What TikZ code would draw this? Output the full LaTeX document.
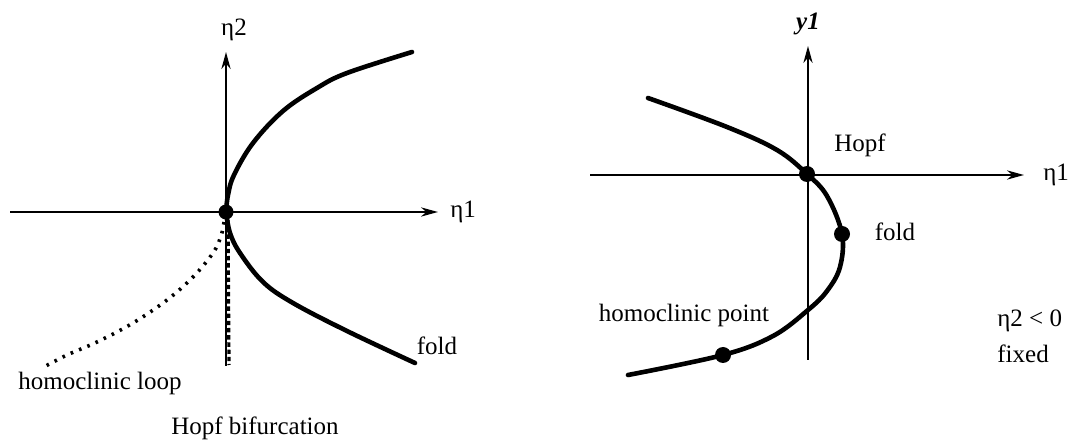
\documentclass[tikz,border=0pt]{standalone}
\usepackage{fontspec}
\setmainfont{Liberation Serif}
\usetikzlibrary{arrows.meta}

\begin{document}
\begin{tikzpicture}[
    x=0.5pt, y=-0.5pt,
    font=\fontsize{12.5}{15}\selectfont,
    axis/.style={line width=1.1pt, -{Stealth[length=8.5pt, width=4.6pt]}},
    branch/.style={line width=2.3pt, line cap=round, line join=round},
    dot/.style={circle, fill, inner sep=0pt, minimum size=7.5pt},
    lbl/.style={inner sep=0pt},
]
    \useasboundingbox (0,0) rectangle (1072,443);

    % left panel
    \coordinate (xl0) at (10,212);
    \coordinate (xl1) at (438,212);
    \coordinate (yl0) at (226,366);
    \coordinate (yl1) at (226,52);

    \draw [axis]
        (xl0) -- (xl1)
        ;

    \draw [axis]
        (yl0) -- (yl1)
        ;

    \draw [branch]
        plot [smooth, tension=0.6] coordinates {(226,212) (228,195) (234,175)
            (253,143) (283,111) (317,88) (347,73) (412,52)}
        ;

    \draw [branch]
        plot [smooth, tension=0.6] coordinates {(226,212) (230,233) (240,253)
            (263,282) (293,303) (347,331) (415,363)}
        ;

    \draw [line width=1.8pt, dash pattern=on 1.3pt off 3.2pt]
        plot [smooth, tension=0.6] coordinates {(224,222) (221,236) (213,253)
            (193,277) (167,300) (133,323) (97,342) (67,355) (42,368)}
        ;

    \draw [line width=1.6pt, dash pattern=on 2.2pt off 1.4pt]
        (228,220) -- (229,365)
        ;

    \node [dot] (bt) at (226,212) {};

    \node [lbl] (eta1l) at (450,212) [anchor=west] {η1};
    \node [lbl] (eta2l) at (234,30) {η2};
    \node [lbl] (foldl) at (437,346) {fold};
    \node [lbl] (loopl) at (100,383) {homoclinic loop};
    \node [lbl] (hopfbif) at (255,428) {Hopf bifurcation};

    % right panel
    \coordinate (xr0) at (590,175);
    \coordinate (xr1) at (1024,175);
    \coordinate (yr0) at (808,360);
    \coordinate (yr1) at (808,46);

    \draw [axis]
        (xr0) -- (xr1)
        ;

    \draw [axis]
        (yr0) -- (yr1)
        ;

    \draw [branch]
        plot [smooth, tension=0.6] coordinates {(648,98) (727,127) (777,150)
            (807,174) (827,196) (842,234) (840,267) (827,291) (808,310)
            (773,336) (723,355) (628,375)}
        ;

    \node [dot, minimum size=8pt] (hopf) at (807,174) {};
    \node [dot, minimum size=8pt] (fold) at (842,234) {};
    \node [dot, minimum size=8pt] (homo) at (723,355) {};

    \node [lbl] (eta1r) at (1043,175) [anchor=west] {η1};
    \node [lbl] (y1r) at (808,24) {\textbf{\textit{y1}}};
    \node [lbl] (hopfr) at (860,145) {Hopf};
    \node [lbl] (foldr) at (895,232) {fold};
    \node [lbl] (homor) at (684,315) {homoclinic point};
    \node [lbl, anchor=west] (etacond) at (997,321) {η2 < 0};
    \node [lbl, anchor=west] (fixed) at (997,354) {fixed};

\end{tikzpicture}
\end{document}
